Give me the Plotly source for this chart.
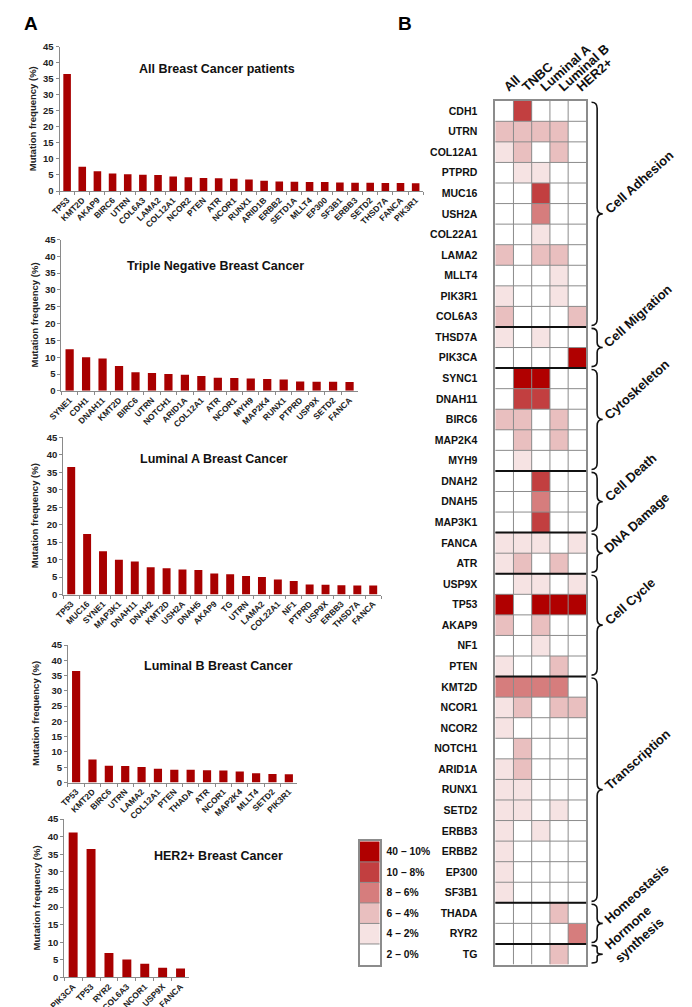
import math
import plotly.graph_objects as go

W, H = 692, 1007
FONT = "Liberation Sans, Arial, Helvetica, sans-serif"
BAR_COLOR = "#a80000"
AXIS_COLOR = "#8a8a8a"
GRID_COLOR = "#8c8c8c"

# ---------------- Panel A data ----------------
all_genes = ["TP53", "KMT2D", "AKAP9", "BIRC6", "UTRN", "COL6A3", "LAMA2", "COL12A1", "NCOR2", "PTEN",
             "ATR", "NCOR1", "RUNX1", "ARID1B", "ERBB2", "SETD1A", "MLLT4", "EP300", "SF3B1", "ERBB3",
             "SETD2", "THSD7A", "FANCA", "PIK3R1"]
all_freq = [36.5, 7.6, 6.2, 5.5, 5.2, 5.1, 5.0, 4.5, 4.3, 4.1,
            4.0, 3.8, 3.6, 3.2, 3.0, 2.9, 2.8, 2.8, 2.7, 2.6,
            2.6, 2.5, 2.5, 2.4]

tnbc_genes = ["SYNE1", "CDH1", "DNAH11", "KMT2D", "BIRC6", "UTRN", "NOTCH1", "ARID1A", "COL12A1", "ATR",
              "NCOR1", "MYH9", "MAP2K4", "RUNX1", "PTPRD", "USP9X", "SETD2", "FANCA"]
tnbc_freq = [12.4, 10.0, 9.6, 7.4, 5.5, 5.3, 5.0, 4.8, 4.4, 3.9,
             3.8, 3.7, 3.5, 3.4, 2.8, 2.7, 2.7, 2.6]

luma_genes = ["TP53", "MUC16", "SYNE1", "MAP3K1", "DNAH11", "DNAH2", "KMT2D", "USH2A", "DNAH5", "AKAP9",
              "TG", "UTRN", "LAMA2", "COL22A1", "NF1", "PTPRD", "USP9X", "ERBB3", "THSD7A", "FANCA"]
luma_freq = [36.5, 17.3, 12.4, 10.0, 9.5, 7.8, 7.5, 7.2, 7.0, 6.0,
             5.8, 5.3, 5.0, 4.3, 3.9, 2.9, 2.8, 2.7, 2.6, 2.6]

lumb_genes = ["TP53", "KMT2D", "BIRC6", "UTRN", "LAMA2", "COL12A1", "PTEN", "THADA", "ATR", "NCOR1",
              "MAP2K4", "MLLT4", "SETD2", "PIK3R1"]
lumb_freq = [36.5, 7.5, 5.5, 5.4, 5.1, 4.5, 4.2, 4.2, 4.0, 3.9,
             3.6, 3.0, 2.8, 2.7]

her2_genes = ["PIK3CA", "TP53", "RYR2", "COL6A3", "NCOR1", "USP9X", "FANCA"]
her2_freq = [41.2, 36.5, 6.9, 5.1, 3.9, 2.7, 2.5]

bar_titles = ["All Breast Cancer patients", "Triple Negative Breast Cancer", "Luminal A Breast Cancer",
              "Luminal B Breast Cancer", "HER2+ Breast Cancer"]
y_ticks = [0, 5, 10, 15, 20, 25, 30, 35, 40, 45]
y_title = "Mutation frequency (%)"

# ---------------- Panel B data ----------------
subtypes = ["All", "TNBC", "Luminal A", "Luminal B", "HER2+"]
hm_genes = ["CDH1", "UTRN", "COL12A1", "PTPRD", "MUC16", "USH2A", "COL22A1", "LAMA2", "MLLT4", "PIK3R1",
            "COL6A3", "THSD7A", "PIK3CA", "SYNC1", "DNAH11", "BIRC6", "MAP2K4", "MYH9", "DNAH2", "DNAH5",
            "MAP3K1", "FANCA", "ATR", "USP9X", "TP53", "AKAP9", "NF1", "PTEN", "KMT2D", "NCOR1",
            "NCOR2", "NOTCH1", "ARID1A", "RUNX1", "SETD2", "ERBB3", "ERBB2", "EP300", "SF3B1", "THADA",
            "RYR2", "TG"]
# level: 0 = 2-0%, 1 = 4-2%, 2 = 6-4%, 3 = 8-6%, 4 = 10-8%, 5 = 40-10%
hm_levels = [
    [0, 4, 0, 0, 0],  # CDH1
    [2, 2, 2, 2, 0],  # UTRN
    [1, 2, 0, 2, 0],  # COL12A1
    [0, 1, 1, 0, 0],  # PTPRD
    [0, 0, 4, 0, 0],  # MUC16
    [0, 0, 3, 0, 0],  # USH2A
    [0, 0, 1, 0, 0],  # COL22A1
    [2, 0, 2, 2, 0],  # LAMA2
    [0, 0, 0, 1, 0],  # MLLT4
    [1, 0, 0, 1, 0],  # PIK3R1
    [2, 0, 0, 0, 2],  # COL6A3
    [1, 0, 1, 0, 0],  # THSD7A
    [0, 0, 0, 0, 5],  # PIK3CA
    [0, 5, 5, 0, 0],  # SYNC1
    [0, 4, 4, 0, 0],  # DNAH11
    [2, 2, 0, 2, 0],  # BIRC6
    [0, 2, 0, 2, 0],  # MAP2K4
    [0, 1, 0, 0, 0],  # MYH9
    [0, 0, 4, 0, 0],  # DNAH2
    [0, 0, 3, 0, 0],  # DNAH5
    [0, 0, 4, 0, 0],  # MAP3K1
    [1, 1, 1, 0, 1],  # FANCA
    [1, 2, 0, 2, 0],  # ATR
    [0, 1, 1, 0, 1],  # USP9X
    [5, 0, 5, 5, 5],  # TP53
    [2, 0, 2, 0, 0],  # AKAP9
    [0, 0, 1, 0, 0],  # NF1
    [1, 0, 0, 2, 0],  # PTEN
    [3, 3, 3, 3, 0],  # KMT2D
    [1, 2, 0, 2, 2],  # NCOR1
    [1, 0, 0, 0, 0],  # NCOR2
    [0, 2, 0, 0, 0],  # NOTCH1
    [1, 2, 0, 0, 0],  # ARID1A
    [1, 1, 0, 0, 0],  # RUNX1
    [1, 1, 0, 1, 0],  # SETD2
    [1, 0, 1, 0, 0],  # ERBB3
    [1, 0, 0, 0, 0],  # ERBB2
    [1, 0, 0, 0, 0],  # EP300
    [1, 0, 0, 0, 0],  # SF3B1
    [0, 0, 0, 2, 0],  # THADA
    [0, 0, 0, 0, 3],  # RYR2
    [0, 0, 0, 2, 0],  # TG
]
groups = ["Cell Adhesion", "Cell Migration", "Cytoskeleton", "Cell Death", "DNA Damage", "Cell Cycle",
          "Transcription", "Homeostasis", "Hormone<br>synthesis"]
group_sizes = [11, 2, 5, 3, 2, 5, 11, 2, 1]
legend_levels = [5, 4, 3, 2, 1, 0]
legend_labels = ["40 – 10%", "10 – 8%", "8 – 6%", "6 – 4%", "4 – 2%", "2 – 0%"]
level_colors = ["#ffffff", "#f6e3e3", "#e9bfbf", "#d67d7d", "#c23f40", "#b00000"]

# ---------------- geometry (pixels) ----------------
bar_boxes = [(38, 427, 33, 179), (40, 357, 228, 381), (42, 382, 428, 587), (47, 292, 638, 777), (43, 177, 814, 974)]
title_pos = [(206, 56), (205, 255), (203, 450), (208, 659), (208, 851)]
ytitle_x = [9, 11, 12, 13, 13]
HM_BOX = (504, 601.5, 87.7, 961)
LG_BOX = (359, 380.5, 836.5, 961)


def px(x):
    return x / W


def py(y):
    return 1 - y / H


fig = go.Figure()
layout = dict(width=W, height=H, margin=dict(l=0, r=0, t=0, b=0), paper_bgcolor="white",
              plot_bgcolor="white", showlegend=False, bargap=0.5,
              font=dict(family=FONT, color="#111111"))
annotations = []
shapes = []

series = [(all_genes, all_freq), (tnbc_genes, tnbc_freq), (luma_genes, luma_freq),
          (lumb_genes, lumb_freq), (her2_genes, her2_freq)]

for i, ((genes, vals), box, title, tp, ytx) in enumerate(zip(series, bar_boxes, bar_titles, title_pos, ytitle_x)):
    n = i + 1
    xa = "x" if n == 1 else f"x{n}"
    ya = "y" if n == 1 else f"y{n}"
    fig.add_trace(go.Bar(x=genes, y=vals, marker=dict(color=BAR_COLOR, line=dict(width=0)),
                         xaxis=xa, yaxis=ya, hoverinfo="x+y"))
    x0, x1, yt, yb = box
    layout[f"xaxis{'' if n == 1 else n}"] = dict(
        domain=[px(x0), px(x1)], anchor=ya, type="category", showline=True, linecolor=AXIS_COLOR,
        linewidth=1, ticks="outside", tickson="boundaries", ticklen=3, tickcolor=AXIS_COLOR,
        tickangle=-45, tickfont=dict(size=8.5, family=FONT, weight="bold", color="#222"),
        showgrid=False, zeroline=False, fixedrange=True)
    layout[f"yaxis{'' if n == 1 else n}"] = dict(
        domain=[py(yb), py(yt)], anchor=xa, range=[0, 45], tickvals=y_ticks, showline=True,
        linecolor=AXIS_COLOR, linewidth=1, ticks="outside", ticklen=3, tickcolor=AXIS_COLOR,
        tickfont=dict(size=9.5, family=FONT, weight="bold", color="#222"), showgrid=False,
        zeroline=False, fixedrange=True)
    annotations.append(dict(text=f"<b>{title}</b>", x=px(tp[0]), y=py(tp[1]), xref="paper", yref="paper",
                            showarrow=False, xanchor="center", yanchor="middle",
                            font=dict(size=12.5, family=FONT, color="#111")))
    annotations.append(dict(text=f"<b>{y_title}</b>", x=px(ytx), y=py((yt + yb) / 2), xref="paper",
                            yref="paper", showarrow=False, textangle=-90, xanchor="center",
                            yanchor="middle", font=dict(size=9.5, family=FONT, color="#222")))

# ---------------- heatmap ----------------
nlev = len(level_colors)
cscale = []
for k, c in enumerate(level_colors):
    cscale.append([k / nlev, c])
    cscale.append([(k + 1) / nlev, c])

n_rows, n_cols = len(hm_genes), len(subtypes)
fig.add_trace(go.Heatmap(z=hm_levels, x=subtypes, y=list(range(n_rows)), colorscale=cscale,
                         zmin=-0.5, zmax=nlev - 0.5, showscale=False, xaxis="x6", yaxis="y6",
                         hoverinfo="skip"))
hx0, hx1, hy0, hy1 = HM_BOX
layout["xaxis6"] = dict(domain=[px(hx0), px(hx1)], anchor="y6", type="category", side="top",
                        range=[-0.5, n_cols - 0.5], showline=True, mirror=True, linecolor=GRID_COLOR,
                        linewidth=1.5, ticks="", tickangle=-42, ticklabelstandoff=0,
                        tickfont=dict(size=13, family=FONT, weight="bold", color="#111"),
                        showgrid=False, zeroline=False, fixedrange=True)
layout["yaxis6"] = dict(domain=[py(hy1), py(hy0)], anchor="x6", range=[n_rows - 0.5, -0.5],
                        tickvals=list(range(n_rows)), ticktext=hm_genes, showline=True, mirror=True,
                        linecolor=GRID_COLOR, linewidth=1.5, ticks="", ticklabelstandoff=14,
                        tickfont=dict(size=10.5, family=FONT, weight="bold", color="#111"),
                        showgrid=False, zeroline=False, fixedrange=True)

for r in range(1, n_rows):
    shapes.append(dict(type="line", xref="x6", yref="y6", x0=-0.5, x1=n_cols - 0.5, y0=r - 0.5, y1=r - 0.5,
                       line=dict(color=GRID_COLOR, width=1), layer="above"))
for c in range(1, n_cols):
    shapes.append(dict(type="line", xref="x6", yref="y6", x0=c - 0.5, x1=c - 0.5, y0=-0.5, y1=n_rows - 0.5,
                       line=dict(color=GRID_COLOR, width=1), layer="above"))

# group separators, brackets and labels
row_h = (hy1 - hy0) / n_rows
theta = math.radians(42)
dvec = (math.cos(theta), -math.sin(theta))
uvec = (-math.sin(theta), -math.cos(theta))
CW = {"A": .722, "B": .722, "C": .722, "D": .722, "E": .667, "H": .722, "M": .833, "N": .722, "T": .611,
      "a": .556, "c": .556, "d": .611, "e": .556, "g": .611, "h": .611, "i": .278, "k": .556, "l": .278,
      "m": .889, "n": .611, "o": .611, "p": .611, "r": .389, "s": .556, "t": .333, "y": .556, "D ": .722,
      " ": .278}
GFS = 13


def text_w(s, size):
    return sum(CW.get(ch, 0.6) for ch in s) * size


bx_a, bx_b, bx_c = px(607), px(613), px(619)
start = 0
for gi, (name, size) in enumerate(zip(groups, group_sizes)):
    end = start + size
    if gi < len(groups) - 1:
        shapes.append(dict(type="line", xref="x6", yref="y6", x0=-0.5, x1=n_cols - 0.5, y0=end - 0.5,
                           y1=end - 0.5, line=dict(color="#111", width=2), layer="above"))
    top = start - 0.5 + 0.07
    bot = end - 0.5 - 0.07
    mid = start + (size - 1) / 2
    rr = min(0.3, size * 0.12)
    path = (f"M{bx_a},{top} Q{bx_b},{top} {bx_b},{top + rr} L{bx_b},{mid - rr} "
            f"Q{bx_b},{mid} {bx_c},{mid} Q{bx_b},{mid} {bx_b},{mid + rr} L{bx_b},{bot - rr} "
            f"Q{bx_b},{bot} {bx_a},{bot}")
    shapes.append(dict(type="path", xref="paper", yref="y6", path=path,
                       line=dict(color="#111", width=1.6)))
    lines = name.split("<br>")
    nl = len(lines)
    mid_px = hy0 + (mid + 0.5) * row_h
    sx, sy = 628, mid_px - (4 if nl > 1 else 0)
    w1 = text_w(lines[0], GFS)
    cval = 0.33 * GFS
    lh = 1.3 * GFS
    cx = sx + w1 / 2 * dvec[0] + cval * uvec[0] - (nl - 1) * lh / 2 * uvec[0]
    cy = sy + w1 / 2 * dvec[1] + cval * uvec[1] - (nl - 1) * lh / 2 * uvec[1]
    annotations.append(dict(text="<b>" + name.replace("<br>", "</b><br><b>") + "</b>", x=px(cx), y=py(cy),
                            xref="paper", yref="paper", showarrow=False, textangle=-42,
                            xanchor="center", yanchor="middle", align="center",
                            font=dict(size=GFS, family=FONT, color="#111")))
    start = end

# ---------------- legend ----------------
fig.add_trace(go.Heatmap(z=[[lv] for lv in legend_levels], x=[0], y=list(range(len(legend_levels))),
                         colorscale=cscale, zmin=-0.5, zmax=nlev - 0.5, showscale=False,
                         xaxis="x7", yaxis="y7", hoverinfo="skip"))
lx0, lx1, ly0, ly1 = LG_BOX
layout["xaxis7"] = dict(domain=[px(lx0), px(lx1)], anchor="y7", range=[-0.5, 0.5], showline=True,
                        mirror=True, linecolor=GRID_COLOR, linewidth=1.5, ticks="", showticklabels=False,
                        showgrid=False, zeroline=False, fixedrange=True)
layout["yaxis7"] = dict(domain=[py(ly1), py(ly0)], anchor="x7", range=[len(legend_levels) - 0.5, -0.5],
                        side="right", tickvals=list(range(len(legend_levels))), ticktext=legend_labels,
                        showline=True, mirror=True, linecolor=GRID_COLOR, linewidth=1.5, ticks="",
                        ticklabelstandoff=3,
                        tickfont=dict(size=10.3, family=FONT, weight="bold", color="#111"),
                        showgrid=False, zeroline=False, fixedrange=True)
for r in range(1, len(legend_levels)):
    shapes.append(dict(type="line", xref="x7", yref="y7", x0=-0.5, x1=0.5, y0=r - 0.5, y1=r - 0.5,
                       line=dict(color=GRID_COLOR, width=1), layer="above"))

# panel letters
annotations.append(dict(text="<b>A</b>", x=px(8), y=py(10), xref="paper", yref="paper", showarrow=False,
                        xanchor="center", yanchor="middle", font=dict(size=19, family=FONT, color="#000")))
annotations.append(dict(text="<b>B</b>", x=px(407.5), y=py(10), xref="paper", yref="paper", showarrow=False,
                        xanchor="center", yanchor="middle", font=dict(size=19, family=FONT, color="#000")))

layout["annotations"] = annotations
layout["shapes"] = shapes
fig.update_layout(**layout)
fig.write_html("out.html")
